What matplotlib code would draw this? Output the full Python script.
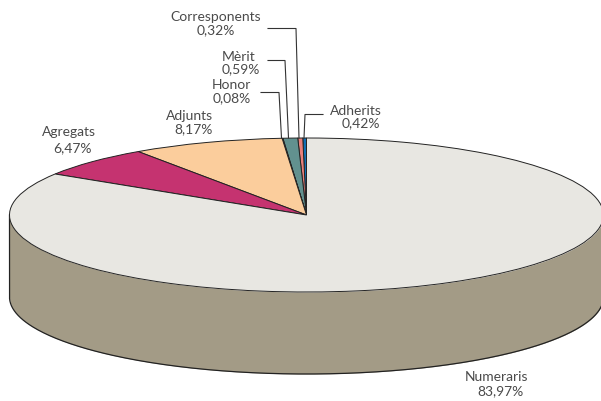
import numpy as np
import matplotlib
matplotlib.use("Agg")
import matplotlib.pyplot as plt

# drawn order, counter-clockwise from 12 o'clock
categories = ["Adherits", "Corresponents", "Mèrit", "Honor", "Adjunts", "Agregats", "Numeraris"]
pct_labels = ["0,42%", "0,32%", "0,59%", "0,08%", "8,17%", "6,47%", "83,97%"]
# wedge shares as drawn (the small ones are not quite to scale in the original)
shares = [0.20, 0.27, 0.80, 0.04, 8.28, 6.47, 83.94]
colors = ["#0F6FB4", "#E8807A", "#62918F", "#62918F", "#FBCD9C", "#C53370", "#E8E7E2"]

SIDE_COLOR = "#A39B86"
EDGE = "#222222"
TEXT = "#4A4A4A"

# pie geometry in pixels
W, H = 601, 401
CX, CY = 306.5, 215
RX, RY = 297, 77
DEPTH = 82

plt.rcParams["font.family"] = ["Lato", "DejaVu Sans"]

fig = plt.figure(figsize=(W / 100, H / 100), dpi=100, facecolor="white")

# pie axes: unit circle squashed to an ellipse
ax = fig.add_axes([0, 0, 1, 1])
ax.pie(shares, colors=colors, startangle=90, counterclock=True, radius=1,
       wedgeprops={"edgecolor": EDGE, "linewidth": 0.7})
ax.set_aspect("auto")
ax.set_xlim((0 - CX) / RX, (W - CX) / RX)
ax.set_ylim((CY - H) / RY, CY / RY)

# side wall
t = np.linspace(np.pi, 2 * np.pi, 300)
x = np.cos(t)
y = np.sin(t)
d = DEPTH / RY
ax.fill_between(x, y - d, y, color=SIDE_COLOR, zorder=0.5, linewidth=0)
outline_x = np.concatenate([[-1], x, [1]])
outline_y = np.concatenate([[0], y - d, [0]])
ax.plot(outline_x, outline_y, color=EDGE, lw=0.9, zorder=0.6, solid_joinstyle="round")

# overlay in pixel coordinates for labels and leaders
ov = fig.add_axes([0, 0, 1, 1], facecolor="none")
ov.set_xlim(0, W)
ov.set_ylim(H, 0)
ov.axis("off")

name_pos = {
    "Adherits": (356, 111),
    "Corresponents": (216, 17),
    "Mèrit": (239, 57),
    "Honor": (231, 85),
    "Adjunts": (190, 116),
    "Agregats": (69, 132),
    "Numeraris": (497, 377),
}
pct_pos = {
    "Adherits": (361, 123),
    "Corresponents": (216, 30),
    "Mèrit": (241, 69),
    "Honor": (232, 98),
    "Adjunts": (194, 129),
    "Agregats": (73, 148),
    "Numeraris": (501, 391),
}
for name, pct in zip(categories, pct_labels):
    ov.text(*name_pos[name], name, ha="center", va="center", fontsize=10, color=TEXT)
    ov.text(*pct_pos[name], pct, ha="center", va="center", fontsize=10, color=TEXT)

leaders = [
    [(268, 28.5), (296, 28.5), (299, 138)],
    [(268, 60.5), (285, 60.5), (288.5, 138)],
    [(261, 92.5), (279, 92.5), (281.5, 138)],
    [(323, 114.5), (305, 114.5), (304, 138)],
]
for pts in leaders:
    xs, ys = zip(*pts)
    ov.plot(xs, ys, color="#333333", lw=0.8)

fig.savefig("out.png", dpi=100, facecolor="white")
